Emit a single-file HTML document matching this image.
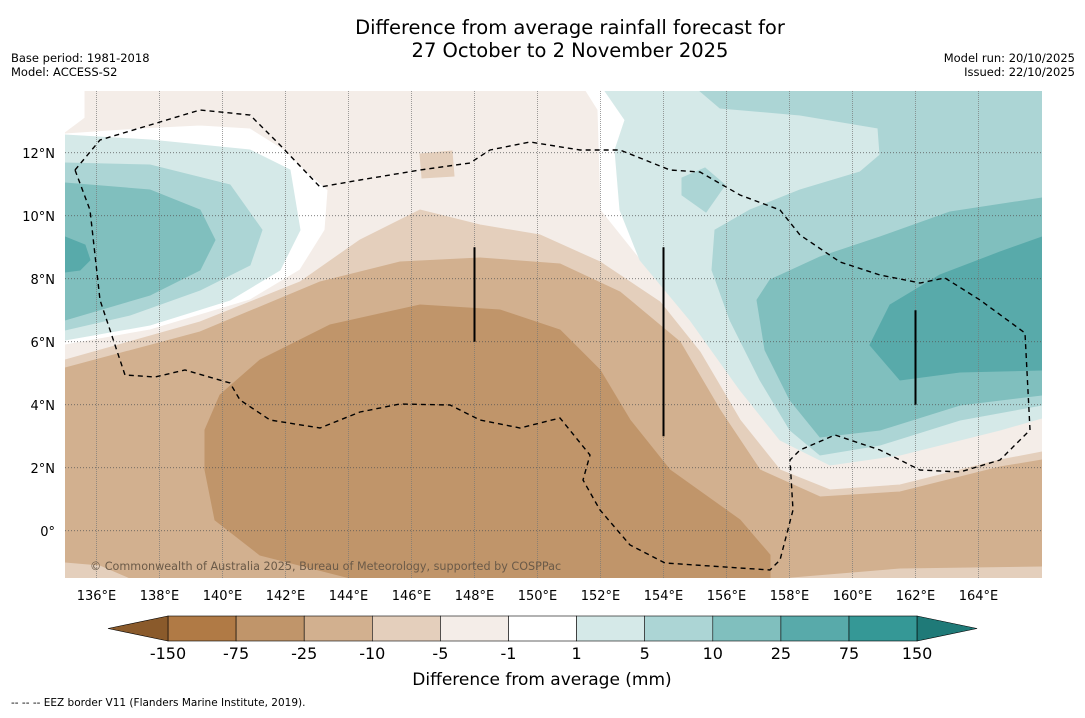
<!DOCTYPE html>
<html><head><meta charset="utf-8"><style>
body{margin:0;background:#fff;font-family:"Liberation Sans","DejaVu Sans",sans-serif;}
svg text{font-family:"DejaVu Sans","Liberation Sans",sans-serif;}
</style></head><body>
<svg id="chart" width="1085" height="713" viewBox="0 0 1085 713" xmlns="http://www.w3.org/2000/svg">
<rect width="1085" height="713" fill="#fff"/>
<text x="570" y="34" font-size="19.5" text-anchor="middle">Difference from average rainfall forecast for</text>
<text x="570" y="57" font-size="19.5" text-anchor="middle">27 October to 2 November 2025</text>
<text x="11" y="62" font-size="11.5">Base period: 1981-2018</text>
<text x="11" y="76" font-size="11.5">Model: ACCESS-S2</text>
<text x="1075" y="62" font-size="11.5" text-anchor="end">Model run: 20/10/2025</text>
<text x="1075" y="76" font-size="11.5" text-anchor="end">Issued: 22/10/2025</text>
<defs><clipPath id="mc"><rect x="65" y="91" width="977" height="487"/></clipPath></defs>
<g id="map" clip-path="url(#mc)"></g>
<g id="axes"></g>
<g id="cbar"></g>
<text x="11" y="706" font-size="10.5">-- -- -- EEZ border V11 (Flanders Marine Institute, 2019).</text>
</svg>
<script>
const lonMin=135, lonMax=165, latMin=-1.5, latMax=14;
const lonTicks=[136,138,140,142,144,146,148,150,152,154,156,158,160,162,164];
const latTicks=[0,2,4,6,8,10,12];
const levelColors=['#b07a45','#c0956a','#d2b08f','#e4cfbc','#f4ede8','#ffffff','#d5e9e8','#acd5d5','#80bfbe','#58aaaa','#359896'];
const levelLabels=['-150','-75','-25','-10','-5','-1','1','5','10','25','75','150'];
const X=lon=>65+(lon-lonMin)*31.5;
const Y=lat=>578-(lat-latMin)*31.5;
const P=(x,y)=>[135+(x-65)/31.5, -1.5+(578-y)/31.5];
const px=a=>a.map(p=>P(p[0],p[1]));
const contours=[
 {c:'#f4ede8',n:'le-minus1',pts:px([[85,91],[585,91],[597,110],[600,210],[640,260],[690,320],[740,390],[780,440],[830,465],[900,455],[1000,430],[1042,418],[1042,578],[65,578],[65,345],[150,330],[250,300],[300,270],[325,230],[328,190],[305,170],[285,150],[250,128],[200,125],[140,128],[65,133],[85,118]])},
 {c:'#e4cfbc',n:'le-minus5',pts:px([[65,360],[200,322],[300,282],[360,240],[420,210],[480,225],[540,235],[600,262],[660,302],[700,352],[740,420],[780,470],[830,490],[900,485],[1000,460],[1042,452],[1042,578],[65,578]])},
 {c:'#e4cfbc',n:'le-minus5-patch',pts:px([[420,154],[452,151],[454,176],[422,178]])},
 {c:'#d2b08f',n:'le-minus10',pts:px([[65,368],[200,332],[320,282],[400,262],[480,258],[560,264],[620,292],[680,342],[720,410],[760,470],[820,497],[900,492],[1000,467],[1042,460],[1042,566],[900,568],[780,578],[130,578],[100,565],[65,562]])},
 {c:'#c0956a',n:'le-minus25',pts:px([[205,430],[220,395],[260,360],[330,325],[420,305],[500,310],[560,330],[600,370],[630,420],[670,470],[740,520],[770,555],[770,578],[350,578],[260,555],[215,520],[205,470]])},
 {c:'#d5e9e8',n:'ge-1-west',pts:px([[65,135],[150,140],[250,150],[290,170],[300,230],[280,270],[230,300],[150,325],[65,340]])},
 {c:'#acd5d5',n:'ge-5-west',pts:px([[65,163],[150,165],[230,185],[262,230],[250,265],[200,290],[130,315],[65,330]])},
 {c:'#80bfbe',n:'ge-10-west',pts:px([[65,183],[150,190],[200,210],[215,240],[200,270],[150,295],[65,320]])},
 {c:'#58aaaa',n:'ge-25-west',pts:px([[65,237],[85,245],[90,260],[80,270],[65,272]])},
 {c:'#d5e9e8',n:'ge-1-east',pts:px([[605,91],[1042,91],[1042,418],[1000,430],[900,455],[830,465],[780,440],[740,390],[690,320],[640,260],[620,210],[615,150],[625,120]])},
 {c:'#acd5d5',n:'ge-5-east',pts:px([[700,91],[1042,91],[1042,405],[960,420],[880,445],[820,455],[790,430],[760,380],[730,320],[712,270],[715,230],[750,210],[800,190],[860,172],[880,155],[878,128],[800,115],[720,108]])},
 {c:'#acd5d5',n:'ge-5-patch',pts:px([[682,178],[705,168],[725,185],[706,212],[682,195]])},
 {c:'#80bfbe',n:'ge-10-east',pts:px([[770,280],[820,257],[880,237],[950,212],[1042,198],[1042,395],[960,405],[880,430],[820,437],[790,400],[765,350],[757,300]])},
 {c:'#58aaaa',n:'ge-25-east',pts:px([[870,345],[890,305],[940,275],[1000,252],[1042,237],[1042,370],[960,372],[900,380]])}
];
const eez=px([[75,170],[100,140],[160,122],[200,110],[250,115],[280,145],[320,187],[360,180],[420,170],[470,163],[490,150],[530,142],[580,150],[620,150],[670,170],[700,172],[740,195],[780,210],[800,235],[840,262],[880,275],[920,283],[945,278],[980,300],[1025,333],[1030,430],[1000,460],[960,472],[920,470],[880,450],[835,435],[800,450],[790,460],[793,510],[780,560],[770,570],[665,563],[630,545],[600,510],[583,480],[590,455],[560,418],[520,428],[480,420],[450,405],[400,404],[360,412],[320,428],[270,420],[240,400],[230,383],[185,370],[155,377],[125,375],[100,300],[90,210],[75,170]]);
const borders=[[148,9,6],[154,9,3],[162,7,4]];
const NS='http://www.w3.org/2000/svg';
const mk=(t,a,parent)=>{const e=document.createElementNS(NS,t);for(const k in a)e.setAttribute(k,a[k]);parent.appendChild(e);return e;};
const map=document.getElementById('map'), axes=document.getElementById('axes'), cb=document.getElementById('cbar');
mk('rect',{x:65,y:91,width:977,height:487,fill:'#fff'},map);
contours.forEach(o=>{
 const e=mk('polygon',{points:o.pts.map(p=>X(p[0])+','+Y(p[1])).join(' '),fill:o.c,stroke:o.c,'stroke-width':1},map);
 
 
});
lonTicks.forEach(l=>{
 const e=mk('line',{x1:X(l),x2:X(l),y1:91,y2:578,stroke:'#777','stroke-width':0.7,'stroke-dasharray':'1,1'},map);
 
 
 const t=mk('text',{x:X(l),y:600,'font-size':13,'text-anchor':'middle'},axes);t.textContent=l+'°E';
 
 
});
latTicks.forEach(l=>{
 const e=mk('line',{x1:65,x2:1042,y1:Y(l),y2:Y(l),stroke:'#555','stroke-width':0.7,'stroke-dasharray':'1,2'},map);
 
 
 const t=mk('text',{x:55,y:Y(l)+5,'font-size':13,'text-anchor':'end'},axes);t.textContent=l===0?'0°':l+'°N';
 
 
});
const ez=mk('polyline',{points:eez.map(p=>X(p[0])+','+Y(p[1])).join(' '),fill:'none',stroke:'#000','stroke-width':1.4,'stroke-dasharray':'5,4'},map);


borders.forEach(b=>{
 const e=mk('line',{x1:X(b[0]),x2:X(b[0]),y1:Y(b[1]),y2:Y(b[2]),stroke:'#000','stroke-width':2},map);
 
 
});
const cp=mk('text',{x:90,y:570,'font-size':11.2,fill:'#6b5a48'},map);cp.textContent='© Commonwealth of Australia 2025, Bureau of Meteorology, supported by COSPPac';


const cx0=168,cw=68.1,cy=616,ch=25;
levelColors.forEach((c,i)=>{
 const e=mk('rect',{x:cx0+i*cw,y:cy,width:cw,height:ch,fill:c,stroke:'#000','stroke-width':0.6},cb);
 
 
});
const tl=mk('polygon',{points:`108,${cy+ch/2} ${cx0},${cy} ${cx0},${cy+ch}`,fill:'#8a5a2b',stroke:'#000','stroke-width':0.6},cb);


const xe=cx0+levelColors.length*cw;
const tr=mk('polygon',{points:`${xe},${cy} ${xe+60},${cy+ch/2} ${xe},${cy+ch}`,fill:'#1f7a78',stroke:'#000','stroke-width':0.6},cb);


levelLabels.forEach((s,i)=>{
 const t=mk('text',{x:cx0+i*cw,y:659,'font-size':16,'text-anchor':'middle'},cb);t.textContent=s;
 
 
});
const ct=mk('text',{x:542,y:685,'font-size':17,'text-anchor':'middle'},cb);ct.textContent='Difference from average (mm)';


</script>
</body></html>
